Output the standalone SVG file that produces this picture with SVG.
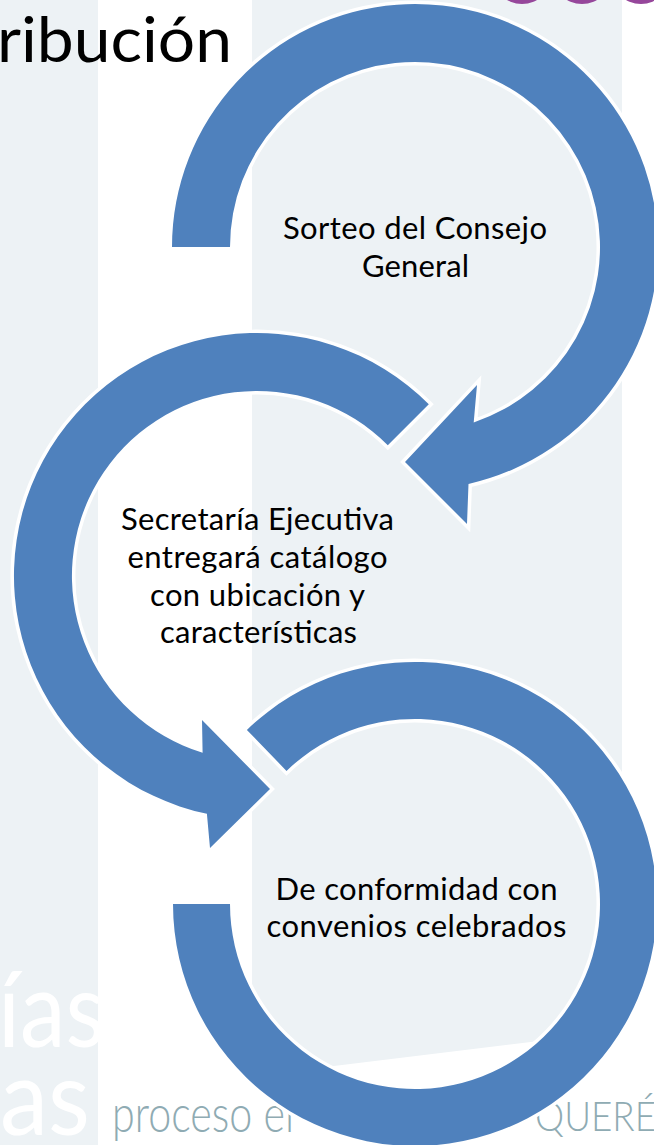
<svg xmlns="http://www.w3.org/2000/svg" width="654" height="1145" viewBox="0 0 654 1145">
  <style>
    .bg-light { fill: #edf2f5; }
    .ring { fill: #4f81bd; stroke: #ffffff; stroke-width: 7; paint-order: stroke; stroke-linejoin: miter; stroke-miterlimit: 4; }
    .label { font-family: "Lato", "Liberation Sans", sans-serif; font-size: 31px; fill: #000000; text-anchor: middle; }
    .wm-white { font-family: "Lato", "Liberation Sans", sans-serif; font-size: 105px; fill: #ffffff; }
    .wm-gray { font-family: "Lato", "Liberation Sans", sans-serif; font-weight: 300; fill: #8fabb3; }
    .dot { fill: #96479b; }
  </style>

  <!-- background -->
  <g id="background">
    <rect x="0" y="0" width="654" height="1145" fill="#ffffff"/>
    <rect class="bg-light" x="0" y="0" width="98" height="1145"/>
    <polygon class="bg-light" points="252,0 622,0 622,1031 252,1076"/>
    <circle class="dot" cx="522" cy="-26" r="30"/>
    <circle class="dot" cx="582" cy="-26" r="30"/>
    <circle class="dot" cx="641" cy="-26" r="30"/>
    <text class="wm-white" x="-2" y="1047" textLength="107" lengthAdjust="spacingAndGlyphs">ías</text>
    <text class="wm-white" x="0" y="1135" textLength="90" lengthAdjust="spacingAndGlyphs">as</text>
    <text class="wm-gray" x="112" y="1132" font-size="52" textLength="182" lengthAdjust="spacingAndGlyphs">proceso el</text>
    <text class="wm-gray" x="535" y="1131" font-size="42" textLength="121" lengthAdjust="spacingAndGlyphs">QUERÉ</text>
  </g>

  <!-- title -->
  <text id="title" x="-3" y="62" font-family="Lato, 'Liberation Sans', sans-serif" font-size="62" fill="#000000" textLength="235" lengthAdjust="spacingAndGlyphs">ribución</text>

  <g id="connectors"></g>

  <!-- node 3: bottom block arc -->
  <g id="node3">
    <path class="ring" d="M173,904 A242,242 0 1 0 246.9,729.9 L286.5,770.9 A185,185 0 1 1 230,904 Z"/>
    <text class="label" x="416.5" y="900" textLength="282">De conformidad con</text>
    <text class="label" x="416.5" y="937" textLength="300">convenios celebrados</text>
  </g>

  <!-- node 2: middle circular arrow -->
  <g id="node2">
    <path class="ring" d="M428.8,404.2 A243,243 0 1 0 206.9,813.8 L210,848 L270,789 L202,720 L202.6,752.8 A185,185 0 1 1 387.8,445.2 Z"/>
    <text class="label" x="257.5" y="530" textLength="273">Secretaría Ejecutiva</text>
    <text class="label" x="257.5" y="568" textLength="260">entregará catálogo</text>
    <text class="label" x="257.5" y="606" textLength="215">con ubicación y</text>
    <text class="label" x="258.5" y="643" textLength="197">características</text>
  </g>

  <!-- node 1: top circular arrow -->
  <g id="node1">
    <path class="ring" d="M172,247 A243,243 0 1 1 468.5,484 L467,524 L405,462 L477,385 L473.7,422.4 A185,185 0 1 0 230,247 Z"/>
    <text class="label" x="415" y="239" textLength="264">Sorteo del Consejo</text>
    <text class="label" x="415.5" y="277" textLength="107">General</text>
  </g>
</svg>
